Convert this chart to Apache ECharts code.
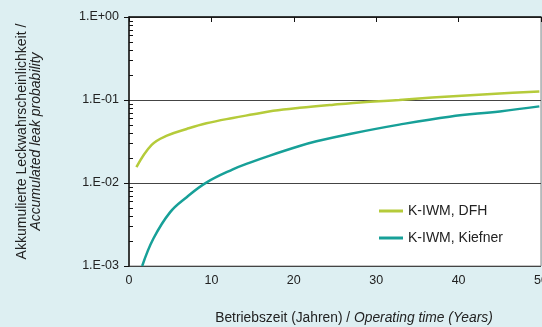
<!DOCTYPE html>
<html><head><meta charset="utf-8">
<script src="https://cdn.jsdelivr.net/npm/echarts@6/dist/echarts.min.js"></script>
<style>html,body{margin:0;padding:0;background:#ddeff2;}#c{width:542px;height:327px;}</style>
</head><body><div id="c"></div>
<script>
const yearsDFH = [0.9, 2.75, 4.6, 7.0, 9.4, 12.6, 15.1, 17.5, 20.7, 24.8, 28.8, 32.8, 36.8, 40.9, 45.0, 49.8];
const valuesDFH = [0.0155, 0.0288, 0.0372, 0.0448, 0.0524, 0.0608, 0.0672, 0.0740, 0.0805, 0.0878, 0.0946, 0.100, 0.107, 0.1135, 0.120, 0.127];
const yearsKiefner = [1.6, 2.95, 5.0, 7.0, 9.33, 12.6, 14.6, 17.1, 20.7, 22.75, 26.8, 32.8, 38.9, 45.0, 49.8];
const valuesKiefner = [0.001, 0.00213, 0.00446, 0.00675, 0.01005, 0.0146, 0.0175, 0.0214, 0.0279, 0.0318, 0.039, 0.0505, 0.063, 0.0729, 0.0838];
const seriesNames = ['K-IWM, DFH', 'K-IWM, Kiefner'];
const xTicks = [0, 10, 20, 30, 40, 50];
const yTickLabels = {'1': '1.E+00', '0.1': '1.E-01', '0.01': '1.E-02', '0.001': '1.E-03'};
const yMinorTicks = [0.002, 0.003, 0.004, 0.005, 0.006, 0.007, 0.008, 0.009,
  0.02, 0.03, 0.04, 0.05, 0.06, 0.07, 0.08, 0.09,
  0.2, 0.3, 0.4, 0.5, 0.6, 0.7, 0.8, 0.9];
const yMin = 0.001, yMax = 1;

const chart = echarts.init(document.getElementById('c'));
const font = 'Liberation Sans, Arial, sans-serif';
chart.setOption({
  backgroundColor: '#ddeff2',
  animation: false,
  textStyle: {fontFamily: font},
  grid: {left: 129, right: 1, top: 17, bottom: 61, outerBoundsMode: 'none', containLabel: false, show: true, backgroundColor: '#ffffff', borderColor: '#888', borderWidth: 1},
  legend: {
    left: 374, top: 199, orient: 'vertical', itemGap: 13, itemWidth: 24, itemHeight: 3,
    icon: 'rect',
    textStyle: {fontSize: 14, color: '#222', fontFamily: font},
    data: seriesNames
  },
  xAxis: {
    type: 'value', min: xTicks[0], max: xTicks[xTicks.length - 1], interval: 10,
    axisLine: {lineStyle: {color: '#111', width: 1.5}},
    axisTick: {show: true, length: 5, lineStyle: {color: '#111'}},
    axisLabel: {fontSize: 12.5, color: '#222', margin: 8, showMaxLabel: true},
    splitLine: {show: false},
    name: '{n|Betriebszeit (Jahren) / }{i|Operating time (Years)}',
    nameLocation: 'middle', nameGap: 45,
    nameTextStyle: {padding: [0, 0, 0, 38], rich: {n: {fontSize: 13.8, color: '#222', fontFamily: font}, i: {fontSize: 13.8, color: '#222', fontStyle: 'italic', fontFamily: font}}}
  },
  yAxis: [{
    type: 'log', logBase: 10, min: yMin, max: yMax,
    axisLine: {show: true, onZero: false, lineStyle: {color: '#111', width: 1.5}},
    axisTick: {show: true, length: 5, lineStyle: {color: '#111'}},
    axisLabel: {fontSize: 12.5, color: '#222', margin: 10, formatter: v => yTickLabels[String(+v.toPrecision(3))] || ''},
    splitLine: {show: true, lineStyle: {color: '#444', width: 1}},
    name: '{n|Akkumulierte Leckwahrscheinlichkeit /}\n{i|Accumulated leak probability}',
    nameLocation: 'middle', nameGap: 86, nameRotate: 90,
    nameTextStyle: {rich: {n: {fontSize: 14, color: '#222', lineHeight: 14, fontFamily: font}, i: {fontSize: 14, color: '#222', fontStyle: 'italic', lineHeight: 14, fontFamily: font}}}
  }, {
    type: 'value', min: Math.log10(yMin), max: Math.log10(yMax), position: 'left', offset: 0,
    axisLine: {show: false, onZero: false},
    axisTick: {show: true, inside: true, length: 4, customValues: yMinorTicks.map(Math.log10), lineStyle: {color: '#111', width: 1}},
    axisLabel: {show: false},
    splitLine: {show: false}
  }],
  series: [
    {name: seriesNames[0], type: 'line', smooth: 0.4, showSymbol: false, color: '#b5cb3a', lineStyle: {width: 2.5}, data: yearsDFH.map((x, i) => [x, valuesDFH[i]])},
    {name: seriesNames[1], type: 'line', smooth: 0.4, showSymbol: false, color: '#17a098', lineStyle: {width: 2.5}, data: yearsKiefner.map((x, i) => [x, valuesKiefner[i]])}
  ]
});
</script></body></html>
